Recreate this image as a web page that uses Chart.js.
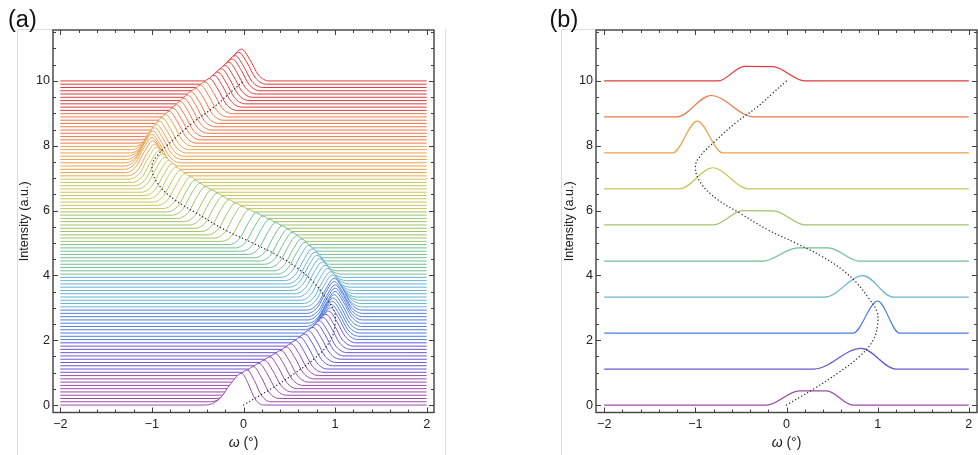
<!DOCTYPE html>
<html>
<head>
<meta charset="utf-8">
<script src="https://cdn.jsdelivr.net/npm/chart.js@4.4.1/dist/chart.umd.min.js"></script>
<style>
  body { margin: 0; background: #fff; }
  #wrap { position: relative; width: 978px; height: 455px; }
  canvas { position: absolute; top: 0; }
  #canvasA { left: 0; }
  #canvasB { left: 489px; }
</style>
</head>
<body>
<div id="wrap">
  <canvas id="canvasA" width="489" height="455"></canvas>
  <canvas id="canvasB" width="489" height="455"></canvas>
</div>
<script>
// ---------------------- DATA

// axis ticks
const xMajorTicks = [-2, -1, 0, 1, 2];
const xTickLabels = ['\u22122', '\u22121', '0', '1', '2'];
const xMinorTicks = [-1.8, -1.6, -1.4, -1.2, -0.8, -0.6, -0.4, -0.2, 0.2, 0.4, 0.6, 0.8, 1.2, 1.4, 1.6, 1.8];
const yMajorTicks = [0, 2, 4, 6, 8, 10];
const yTickLabels = ['0', '2', '4', '6', '8', '10'];
const yMinorTicks = [0.5, 1, 1.5, 2.5, 3, 3.5, 4.5, 5, 5.5, 6.5, 7, 7.5, 8.5, 9, 9.5, 10.5, 11, 11.5];

// peak track (dotted line), omega against offset
const trackY = [0, 0.5, 1.0, 1.5, 2.0, 2.5, 2.9, 3.3, 3.8, 4.2, 4.6, 5.0, 5.4, 5.9, 6.35, 6.85, 7.35, 7.7, 8.2, 8.7, 9.2, 9.6, 10];
const trackX = [0, 0.3, 0.57, 0.8, 0.95, 1.0, 0.99, 0.9, 0.76, 0.6, 0.38, 0.1, -0.2, -0.5, -0.76, -0.94, -1.0, -0.94, -0.76, -0.56, -0.32, -0.16, 0];

// (a) 100 stacked profiles: offset step, peak height, peak centre, left / right foot distance
const aOffsetStep = 0.101;
const aPeak = 0.98;
const aCenter = [
  -0.02, 0.04, 0.11, 0.17, 0.23, 0.29, 0.35, 0.41, 0.47, 0.52,
  0.57, 0.62, 0.67, 0.71, 0.76, 0.80, 0.83, 0.87, 0.90, 0.93,
  0.95, 0.96, 0.97, 0.98, 0.99, 1.00, 1.00, 1.00, 0.99, 0.99,
  0.97, 0.95, 0.92, 0.89, 0.86, 0.83, 0.80, 0.78, 0.75, 0.71,
  0.67, 0.63, 0.58, 0.53, 0.48, 0.42, 0.35, 0.28, 0.21, 0.14,
  0.06, -0.02, -0.09, -0.16, -0.23, -0.29, -0.35, -0.42, -0.48, -0.53,
  -0.58, -0.64, -0.69, -0.74, -0.78, -0.82, -0.86, -0.89, -0.92, -0.95,
  -0.97, -0.99, -1.00, -1.00, -0.99, -0.97, -0.95, -0.92, -0.89, -0.85,
  -0.81, -0.77, -0.73, -0.69, -0.65, -0.61, -0.57, -0.52, -0.47, -0.42,
  -0.37, -0.32, -0.28, -0.24, -0.20, -0.16, -0.12, -0.09, -0.05, -0.02
];
const aLeft = [
  0.40, 0.41, 0.42, 0.43, 0.44, 0.43, 0.43, 0.43, 0.42, 0.42,
  0.42, 0.41, 0.41, 0.39, 0.39, 0.38, 0.37, 0.37, 0.36, 0.35,
  0.35, 0.34, 0.32, 0.32, 0.31, 0.30, 0.30, 0.30, 0.30, 0.30,
  0.30, 0.30, 0.30, 0.30, 0.30, 0.30, 0.30, 0.30, 0.30, 0.30,
  0.30, 0.30, 0.30, 0.30, 0.30, 0.30, 0.30, 0.30, 0.30, 0.30,
  0.30, 0.30, 0.30, 0.30, 0.30, 0.30, 0.30, 0.30, 0.30, 0.30,
  0.30, 0.30, 0.30, 0.30, 0.30, 0.30, 0.30, 0.30, 0.30, 0.30,
  0.30, 0.30, 0.30, 0.30, 0.30, 0.31, 0.32, 0.32, 0.34, 0.35,
  0.35, 0.36, 0.37, 0.37, 0.38, 0.38, 0.39, 0.39, 0.41, 0.41,
  0.41, 0.41, 0.41, 0.41, 0.41, 0.41, 0.41, 0.41, 0.41, 0.41
];
const aRight = [
  0.24, 0.26, 0.28, 0.30, 0.30, 0.30, 0.30, 0.30, 0.30, 0.30,
  0.30, 0.30, 0.30, 0.30, 0.30, 0.30, 0.30, 0.30, 0.30, 0.30,
  0.30, 0.30, 0.30, 0.30, 0.30, 0.30, 0.30, 0.30, 0.31, 0.31,
  0.32, 0.34, 0.35, 0.35, 0.36, 0.37, 0.37, 0.38, 0.38, 0.39,
  0.41, 0.41, 0.42, 0.42, 0.43, 0.43, 0.44, 0.44, 0.44, 0.44,
  0.44, 0.44, 0.44, 0.44, 0.43, 0.43, 0.43, 0.42, 0.42, 0.41,
  0.41, 0.39, 0.38, 0.38, 0.37, 0.36, 0.35, 0.35, 0.34, 0.32,
  0.31, 0.31, 0.30, 0.30, 0.30, 0.30, 0.30, 0.30, 0.30, 0.30,
  0.30, 0.30, 0.30, 0.30, 0.30, 0.30, 0.30, 0.30, 0.30, 0.30,
  0.30, 0.30, 0.30, 0.30, 0.30, 0.30, 0.30, 0.30, 0.30, 0.30
];
// bell profile: position as a fraction of the foot distance, height as a fraction of the peak
const aProfileU = [-1, -0.6, -0.3, 0, 0.3, 0.6, 1];
const aProfileH = [0, 0.2, 0.67, 1, 0.67, 0.2, 0];

// (b) ten summed profiles: offsets, shape points (omega, height above own baseline)
const bOffset = [0, 1.11, 2.22, 3.33, 4.44, 5.56, 6.67, 7.78, 8.89, 10];
const bShapeX = [
  [-2, -0.22, 0.14, 0.44, 0.73, 2],
  [-2, 0.30, 0.82, 1.20, 2],
  [-2, 0.73, 1.00, 1.24, 2],
  [-2, 0.42, 0.84, 1.17, 2],
  [-2, -0.26, 0.12, 0.46, 0.80, 2],
  [-2, -0.80, -0.48, -0.14, 0.20, 2],
  [-2, -1.17, -0.81, -0.42, 2],
  [-2, -1.25, -0.98, -0.70, 2],
  [-2, -1.20, -0.83, -0.36, 2],
  [-2, -0.75, -0.46, -0.15, 0.20, 2]
];
const bShapeY = [
  [0, 0, 0.44, 0.44, 0, 0],
  [0, 0, 0.64, 0, 0],
  [0, 0, 0.99, 0, 0],
  [0, 0, 0.66, 0, 0],
  [0, 0, 0.41, 0.41, 0, 0],
  [0, 0, 0.44, 0.43, 0, 0],
  [0, 0, 0.65, 0, 0],
  [0, 0, 0.98, 0, 0],
  [0, 0, 0.66, 0, 0],
  [0, 0, 0.45, 0.44, 0, 0]
];

// ---------------------- STYLE

const FONT = '"Liberation Sans", Arial, sans-serif';
const TEXT_COLOR = '#222222';
const FRAME_COLOR = '#404040';
const BAND_COLORS = ['#9a4aa8', '#6a56d2', '#4f7ee0', '#69b2d2', '#74bf92',
                     '#9fc46a', '#cac55a', '#eba24c', '#ee7748', '#dd3c3c'];

function bandColor(offset) {
  return BAND_COLORS[Math.min(BAND_COLORS.length - 1, Math.floor(offset + 1e-6))];
}

// frame, inward ticks, omega title, panel letter, faint figure edge
const panelDecor = {
  id: 'panelDecor',
  beforeDraw(chart, args, opts) {
    const ctx = chart.ctx;
    const {left, top} = chart.chartArea;
    ctx.save();
    ctx.strokeStyle = '#dddddd';
    ctx.lineWidth = 1;
    ctx.beginPath();
    ctx.moveTo(opts.edgeX, chart.height);
    ctx.lineTo(opts.edgeX, top - 0.5);
    ctx.lineTo(left, top - 0.5);
    if (opts.rightEdgeX) {
      ctx.moveTo(opts.rightEdgeX, top - 0.5);
      ctx.lineTo(opts.rightEdgeX, chart.height);
    }
    ctx.stroke();
    ctx.restore();
  },
  afterDraw(chart, args, opts) {
    const ctx = chart.ctx;
    const {left, right, top, bottom} = chart.chartArea;
    const xs = chart.scales.x;
    const ys = chart.scales.y;
    ctx.save();
    ctx.strokeStyle = FRAME_COLOR;
    ctx.lineWidth = 1;
    ctx.beginPath();
    const markX = (vals, len) => vals.forEach(v => {
      const px = Math.round(xs.getPixelForValue(v)) + 0.5;
      ctx.moveTo(px, bottom); ctx.lineTo(px, bottom - len);
      ctx.moveTo(px, top); ctx.lineTo(px, top + len);
    });
    const markY = (vals, len) => vals.forEach(v => {
      const py = Math.round(ys.getPixelForValue(v)) + 0.5;
      ctx.moveTo(left, py); ctx.lineTo(left + len, py);
      ctx.moveTo(right, py); ctx.lineTo(right - len, py);
    });
    markX(xMajorTicks, 5);
    markX(xMinorTicks, 3);
    markY(yMajorTicks, 5);
    markY(yMinorTicks, 3);
    ctx.stroke();
    ctx.lineWidth = 1.4;
    ctx.strokeRect(left, top, right - left, bottom - top);

    // omega axis title, italic symbol
    ctx.fillStyle = TEXT_COLOR;
    ctx.textBaseline = 'middle';
    ctx.textAlign = 'left';
    const italic = `italic 14px ${FONT}`;
    const plain = `14px ${FONT}`;
    ctx.font = italic;
    const w1 = ctx.measureText('\u03c9').width;
    ctx.font = plain;
    const w2 = ctx.measureText(' (\u00b0)').width;
    const x0 = (left + right) / 2 - (w1 + w2) / 2;
    ctx.font = italic;
    ctx.fillText('\u03c9', x0, 443);
    ctx.font = plain;
    ctx.fillText(' (\u00b0)', x0 + w1, 443);

    // panel letter
    ctx.textBaseline = 'alphabetic';
    ctx.font = `23.5px ${FONT}`;
    ctx.fillStyle = '#111111';
    ctx.fillText(opts.letter, opts.letterX, 27);
    ctx.restore();
  }
};

function baseOptions(padRight, yWidth, xMin, xMax, titlePad) {
  return {
    responsive: false,
    animation: false,
    events: [],
    layout: {padding: {left: 0, right: padRight, top: 30, bottom: 0}},
    plugins: {legend: {display: false}, tooltip: {enabled: false}},
    scales: {
      x: {
        type: 'linear',
        min: xMin,
        max: xMax,
        grid: {display: false, drawTicks: false},
        border: {display: false},
        afterBuildTicks: scale => { scale.ticks = xMajorTicks.map(v => ({value: v})); },
        afterFit: scale => { scale.height = 42.5; },
        ticks: {
          callback: (v, k) => xTickLabels[k],
          padding: 4,
          maxRotation: 0,
          autoSkip: false,
          color: TEXT_COLOR,
          font: {family: FONT, size: 12.6}
        }
      },
      y: {
        type: 'linear',
        min: -0.23,
        max: 11.57,
        grid: {display: false, drawTicks: false},
        border: {display: false},
        afterBuildTicks: scale => { scale.ticks = yMajorTicks.map(v => ({value: v})); },
        afterFit: scale => { scale.width = yWidth; },
        ticks: {
          callback: (v, k) => yTickLabels[k],
          padding: 3,
          autoSkip: false,
          color: TEXT_COLOR,
          font: {family: FONT, size: 12.6}
        },
        title: {
          display: true,
          text: 'Intensity (a.u.)',
          color: TEXT_COLOR,
          font: {family: FONT, size: 12.6},
          padding: {top: titlePad, bottom: 0}
        }
      }
    }
  };
}

function trackDataset() {
  return {
    data: trackX.map((x, k) => ({x: x, y: trackY[k]})),
    borderColor: '#333333',
    borderWidth: 1.4,
    borderDash: [0.1, 3.4],
    borderCapStyle: 'round',
    pointRadius: 0,
    fill: false,
    tension: 0.4,
    order: -1
  };
}

// ---------------------- CALLS

plotWaterfall();
plotSummed();

// ---------------------- FUNCTIONS

function profilePoints(i) {
  const base = i * aOffsetStep;
  const c = aCenter[i];
  const pts = [{x: -2, y: base}];
  aProfileU.forEach((u, k) => {
    const w = u < 0 ? aLeft[i] : aRight[i];
    pts.push({x: c + u * w, y: base + aProfileH[k] * aPeak});
  });
  pts.push({x: 2, y: base});
  return pts;
}

function plotWaterfall() {
  const datasets = [];
  // front (lowest) curve first: it is drawn last and its white fill hides the ones behind
  for (let i = 0; i < aCenter.length; i++) {
    datasets.push({
      data: profilePoints(i),
      borderColor: bandColor(i * aOffsetStep),
      borderWidth: 1,
      backgroundColor: '#ffffff',
      fill: 'origin',
      pointRadius: 0,
      cubicInterpolationMode: 'monotone'
    });
  }
  datasets.push(trackDataset());

  const options = baseOptions(55, 53, -2.08, 2.08, 17.4);
  options.plugins.panelDecor = {letter: '(a)', letterX: 8, edgeX: 17.5, rightEdgeX: 445.5};

  new Chart(document.getElementById('canvasA').getContext('2d'), {
    type: 'line',
    data: {datasets: datasets},
    options: options,
    plugins: [panelDecor]
  });
}

function plotSummed() {
  const datasets = bOffset.map((offset, k) => ({
    data: bShapeX[k].map((x, j) => ({x: x, y: offset + bShapeY[k][j]})),
    borderColor: BAND_COLORS[k],
    borderWidth: 1.2,
    fill: false,
    pointRadius: 0,
    cubicInterpolationMode: 'monotone'
  }));
  datasets.push(trackDataset());

  const options = baseOptions(1, 107, -2.09, 2.09, 73);
  options.plugins.panelDecor = {letter: '(b)', letterX: 60.5, edgeX: 72.5};

  new Chart(document.getElementById('canvasB').getContext('2d'), {
    type: 'line',
    data: {datasets: datasets},
    options: options,
    plugins: [panelDecor]
  });
}
</script>
</body>
</html>
